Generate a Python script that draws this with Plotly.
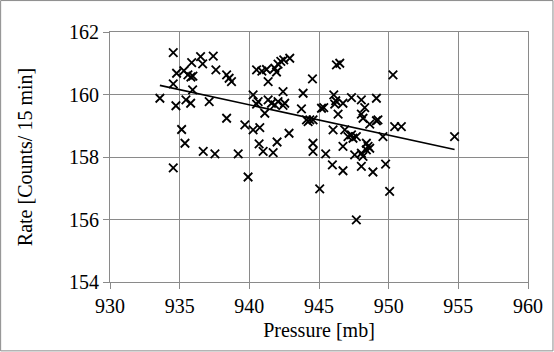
import numpy as np
import plotly.graph_objects as go

# Pressure [mb] values
pressure = [
    934.54, 934.78, 934.54, 933.58, 934.73, 935.30, 935.45, 935.79, 935.93, 935.86,
    935.59, 935.81, 935.95, 936.50, 936.65, 937.41, 937.60, 937.12, 938.37, 938.55,
    938.72, 938.37, 935.14, 935.38, 936.69, 937.53, 934.54, 939.20, 940.52, 940.90,
    941.23, 941.35, 941.83, 942.06, 942.26, 942.47, 942.90, 941.95, 944.53, 940.27,
    940.63, 940.52, 941.35, 941.59, 941.83, 942.06, 942.42, 942.54, 942.42, 941.11,
    943.86, 943.74, 945.18, 944.10, 944.34, 944.57, 944.22, 939.68, 940.27, 940.75,
    942.85, 940.70, 940.99, 941.71, 941.99, 939.91, 944.57, 944.57, 945.48, 945.96,
    945.05, 946.01, 946.06, 946.20, 946.13, 947.33, 948.04, 949.12, 945.34, 946.72,
    946.37, 948.28, 948.04, 948.16, 948.64, 949.12, 949.23, 950.43, 950.91, 946.85,
    947.08, 947.44, 947.68, 947.33, 949.59, 946.72, 948.40, 948.52, 948.64, 948.40,
    947.56, 948.04, 948.16, 946.72, 948.04, 948.87, 949.78, 950.07, 947.68, 954.73,
    950.31, 946.25, 946.49,
]

# Rate [Counts / 15 min] values
rate = [
    161.34, 160.68, 160.34, 159.88, 159.64, 160.76, 159.83, 159.72, 160.15, 161.02,
    160.63, 160.56, 160.59, 161.21, 160.98, 161.23, 160.79, 159.77, 160.63, 160.52,
    160.41, 159.24, 158.88, 158.44, 158.18, 158.10, 157.65, 158.10, 160.79, 160.75,
    160.80, 160.41, 160.84, 160.97, 161.06, 161.11, 161.16, 160.72, 160.50, 159.99,
    159.77, 159.69, 159.83, 159.72, 159.67, 159.77, 159.65, 159.72, 160.09, 159.40,
    160.04, 159.54, 159.56, 159.19, 159.19, 159.19, 159.13, 159.03, 158.87, 158.94,
    158.76, 158.42, 158.18, 158.14, 158.48, 157.36, 158.44, 158.18, 158.10, 157.75,
    156.98, 158.87, 159.99, 159.80, 159.69, 159.90, 159.83, 159.88, 159.58, 159.72,
    159.37, 159.58, 159.37, 159.24, 159.05, 159.16, 159.19, 158.97, 158.97, 158.87,
    158.65, 158.60, 158.65, 158.71, 158.65, 158.34, 158.44, 158.34, 158.28, 158.23,
    158.07, 158.12, 158.02, 157.56, 157.70, 157.52, 157.77, 156.90, 155.99, 158.65,
    160.63, 160.95, 161.00,
]

x_ticks = [930, 935, 940, 945, 950, 955, 960]
y_ticks = [154, 156, 158, 160, 162]

x_arr = np.array(pressure)
y_arr = np.array(rate)
slope, intercept = np.polyfit(x_arr, y_arr, 1)
trend_x = np.array([x_arr.min(), x_arr.max()])
trend_y = slope * trend_x + intercept

W, H = 554, 352
ML, MR, MT, MB = 110, 25.5, 32, 69.5
FONT = "Liberation Serif, Times New Roman, serif"
GRID = "#8a8a8a"
FS = 20

fig = go.Figure()
fig.add_trace(go.Scatter(
    x=pressure, y=rate, mode="markers",
    marker=dict(symbol="x-thin", size=8.5, color="black",
                line=dict(color="black", width=1.8)),
    showlegend=False, hoverinfo="skip",
))
fig.add_trace(go.Scatter(
    x=trend_x, y=trend_y, mode="lines",
    line=dict(color="black", width=1.6),
    showlegend=False, hoverinfo="skip",
))

pw = W - ML - MR
ph = H - MT - MB
fig.add_shape(type="rect", xref="paper", yref="paper",
              x0=(0.5 - ML) / pw, x1=(W - 0.5 - ML) / pw,
              y0=(H - MB - (H - 0.5)) / ph, y1=(H - MB - 0.5) / ph,
              line=dict(color="#8a8a8a", width=1), layer="below")

fig.update_layout(
    width=W, height=H,
    margin=dict(l=ML, r=MR, t=MT, b=MB, pad=0),
    paper_bgcolor="white", plot_bgcolor="white",
    font=dict(family=FONT, size=FS, color="black"),
    xaxis=dict(
        range=[930, 960], tickvals=x_ticks, ticktext=[str(v) for v in x_ticks],
        showgrid=True, gridcolor=GRID, gridwidth=1,
        showline=True, linecolor=GRID, linewidth=1, mirror=True,
        ticks="outside", ticklen=6, tickcolor=GRID, tickwidth=1,
        zeroline=False,
        title=dict(text="Pressure [mb]", font=dict(family=FONT, size=FS), standoff=6),
        tickfont=dict(family=FONT, size=FS),
    ),
    yaxis=dict(
        range=[154, 162], tickvals=y_ticks, ticktext=[str(v) for v in y_ticks],
        showgrid=True, gridcolor=GRID, gridwidth=1,
        showline=True, linecolor=GRID, linewidth=1, mirror=True,
        ticks="outside", ticklen=6, tickcolor=GRID, tickwidth=1,
        zeroline=False,
        title=dict(text="Rate [Counts/ 15 min]", font=dict(family=FONT, size=FS), standoff=31),
        tickfont=dict(family=FONT, size=FS),
    ),
)

fig.write_html("out.html", config={"displayModeBar": False},
               post_script="document.body.style.margin='0';document.body.style.padding='0';")
